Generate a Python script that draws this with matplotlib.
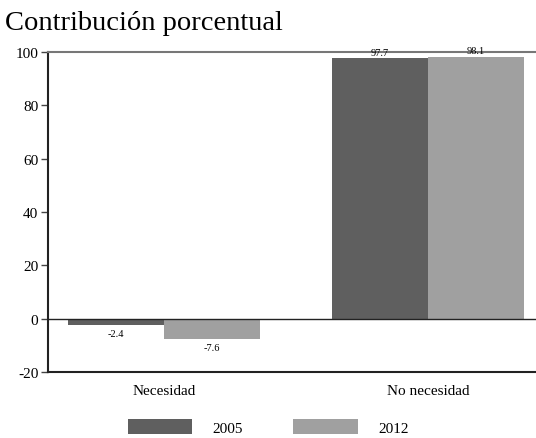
import matplotlib.pyplot as plt
import numpy as np

categories = ['Necesidad', 'No necesidad']
years = ['2005', '2012']
vals_2005 = [-2.4, 97.7]
vals_2012 = [-7.6, 98.1]
colors = ['#5f5f5f', '#a0a0a0']

plt.rcParams['font.family'] = ['Liberation Serif', 'DejaVu Serif']
plt.rcParams['axes.unicode_minus'] = False

fig = plt.figure(figsize=(5.36, 4.39), dpi=100)
ax = fig.add_axes([48 / 536, 66 / 439, 488 / 536, 320 / 439])

x = np.arange(len(categories))
w = 0.365
for i, (vals, yr) in enumerate([(vals_2005, years[0]), (vals_2012, years[1])]):
    off = (i - 0.5) * w
    ax.bar(x + off, vals, w, color=colors[i], label=yr, zorder=2)
    for xi, v in zip(x, vals):
        if v < 0:
            ax.text(xi + off, v - 1.5, f'{v:.1f}', ha='center', va='top', fontsize=7.5)
        else:
            ax.text(xi + off, v + 0.6, f'{v:.1f}', ha='center', va='bottom', fontsize=7.5)

ax.axhline(0, color='#222222', lw=1.0, zorder=3)
ax.set_xlim(-0.44, 1.41)
ax.set_ylim(-20, 100)
ax.set_yticks(range(-20, 101, 20))
ax.set_xticks(x)
ax.set_xticklabels(categories, fontsize=11)
ax.tick_params(axis='x', length=0, pad=9)
ax.tick_params(axis='y', labelsize=11, length=5, width=1, color='#444444', pad=2)

ax.spines['right'].set_visible(False)
ax.spines['top'].set_color('#777777')
ax.spines['top'].set_linewidth(1.5)
ax.spines['left'].set_color('#222222')
ax.spines['left'].set_linewidth(1.5)
ax.spines['bottom'].set_color('#222222')
ax.spines['bottom'].set_linewidth(1.5)

fig.text(5 / 536, 1 - 23 / 439, 'Contribución porcentual', fontsize=20.5, va='center', ha='left')

fig.legend(loc='center', bbox_to_anchor=(0.5, 1 - 428 / 439), ncol=2, frameon=False,
           fontsize=11, handlelength=4.25, handleheight=1.1, columnspacing=3.3,
           handletextpad=1.3, borderpad=0)

fig.savefig('out.png', dpi=100)
